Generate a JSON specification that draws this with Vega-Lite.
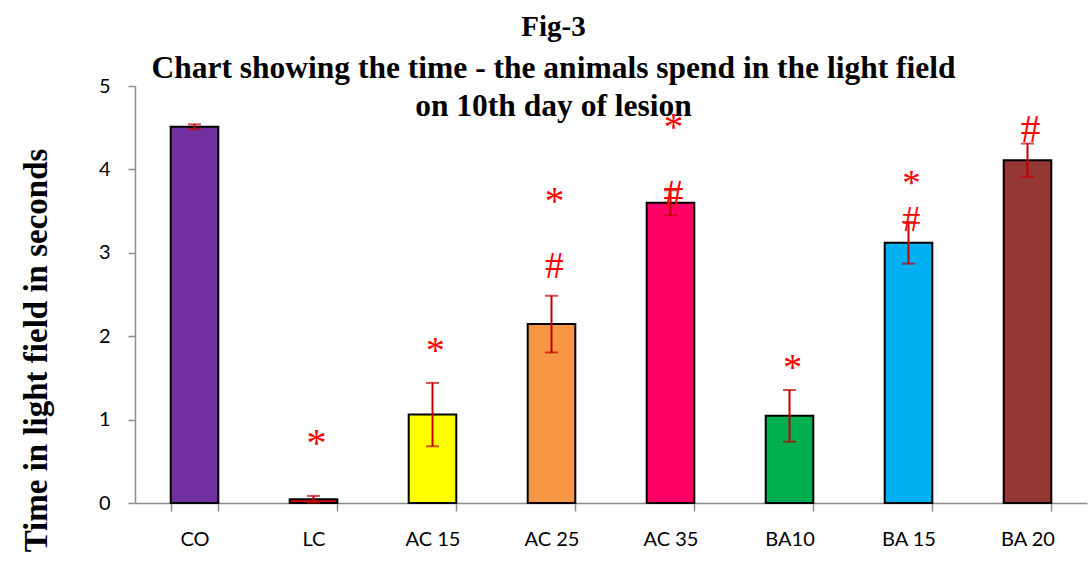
{
  "$schema": "https://vega.github.io/schema/vega-lite/v6.json",
  "width": 952,
  "height": 417,
  "autosize": {"type": "none"},
  "padding": {"left": 135, "top": 86, "right": 3, "bottom": 77},
  "background": "white",
  "title": {
    "text": "Fig-3",
    "subtitle": ["Chart showing the time - the animals spend in the light field", "on 10th day of lesion"],
    "anchor": "middle",
    "frame": "bounds",
    "font": "Liberation Serif",
    "fontSize": 29,
    "fontWeight": "bold",
    "color": "black",
    "subtitleFont": "Liberation Serif",
    "subtitleFontSize": 31.5,
    "subtitleFontWeight": "bold",
    "subtitleColor": "black",
    "subtitleLineHeight": 38,
    "subtitlePadding": 11,
    "offset": -46
  },
  "config": {"view": {"stroke": null}},
  "datasets": {
    "bars": [
      {"group": "CO", "mean": 4.51, "sem": 0.03},
      {"group": "LC", "mean": 0.045, "sem": 0.04},
      {"group": "AC 15", "mean": 1.06, "sem": 0.38},
      {"group": "AC 25", "mean": 2.145, "sem": 0.34},
      {"group": "AC 35", "mean": 3.6, "sem": 0.15},
      {"group": "BA10", "mean": 1.045, "sem": 0.31},
      {"group": "BA 15", "mean": 3.12, "sem": 0.25},
      {"group": "BA 20", "mean": 4.11, "sem": 0.2}
    ],
    "marks": [
      {"group": "LC", "symbol": "*", "pos": 0.71, "level": "6"},
      {"group": "AC 15", "symbol": "*", "pos": 1.815, "level": "3"},
      {"group": "AC 25", "symbol": "*", "pos": 3.61, "level": "5"},
      {"group": "AC 25", "symbol": "#", "pos": 2.83, "level": "3"},
      {"group": "AC 35", "symbol": "*", "pos": 4.5, "level": "5"},
      {"group": "AC 35", "symbol": "#", "pos": 3.69, "level": "6"},
      {"group": "BA10", "symbol": "*", "pos": 1.62, "level": "4"},
      {"group": "BA 15", "symbol": "*", "pos": 3.83, "level": "2"},
      {"group": "BA 15", "symbol": "#", "pos": 3.39, "level": "1"},
      {"group": "BA 20", "symbol": "#", "pos": 4.47, "level": "5"}
    ]
  },
  "encoding": {
    "x": {
      "field": "group",
      "type": "nominal",
      "sort": ["CO", "LC", "AC 15", "AC 25", "AC 35", "BA10", "BA 15", "BA 20"],
      "scale": {"paddingInner": 0.6, "paddingOuter": 0.3},
      "axis": {
        "title": null,
        "labelAngle": 0,
        "labelFont": "Lato",
        "labelFontSize": 20,
        "labelFontWeight": "normal",
        "labelColor": "black",
        "labelPadding": 18,
        "labelBaseline": "top",
        "domainColor": "#8c8c8c",
        "domainWidth": 1.5,
        "tickColor": "#8c8c8c",
        "tickWidth": 1.5,
        "tickSize": 8,
        "tickBand": "extent"
      }
    }
  },
  "layer": [
    {
      "data": {"name": "bars"},
      "mark": {"type": "bar", "stroke": "black", "strokeWidth": 2},
      "encoding": {
        "y": {
          "field": "mean",
          "type": "quantitative",
          "title": "Time in light field in seconds",
          "scale": {"domain": [0, 5], "nice": false},
          "axis": {
            "title": "Time in light field in seconds",
            "titleFont": "Liberation Serif",
            "titleFontSize": 33,
            "titleFontWeight": "bold",
            "titleColor": "black",
            "titleX": -99,
            "titleY": 264,
            "titleAngle": -90,
            "titleAlign": "center",
            "titleBaseline": "middle",
            "values": [0, 1, 2, 3, 4, 5],
            "format": "d",
            "grid": false,
            "labelFont": "Lato",
            "labelFontSize": 20,
            "labelFontWeight": "normal",
            "labelColor": "black",
            "labelPadding": 18,
            "domainColor": "#8c8c8c",
            "domainWidth": 1.5,
            "tickColor": "#8c8c8c",
            "tickWidth": 1.5,
            "tickSize": 7
          }
        },
        "color": {
          "field": "group",
          "type": "nominal",
          "scale": {
            "domain": ["CO", "LC", "AC 15", "AC 25", "AC 35", "BA10", "BA 15", "BA 20"],
            "range": ["#7030A0", "#E00000", "#FFFF00", "#F79646", "#FF0066", "#00B050", "#00B0F0", "#953735"]
          },
          "legend": null
        }
      }
    },
    {
      "data": {"name": "bars"},
      "mark": {
        "type": "errorbar",
        "ticks": {"size": 13, "thickness": 2, "color": "#C00000"},
        "rule": {"strokeWidth": 2, "color": "#C00000"}
      },
      "encoding": {
        "y": {"field": "mean", "type": "quantitative", "title": "Time in light field in seconds"},
        "yError": {"field": "sem"}
      }
    },
    {
      "data": {"name": "marks"},
      "mark": {"type": "text", "font": "Liberation Serif", "color": "#FF0000", "baseline": "middle", "align": "center", "dx": 3},
      "encoding": {
        "y": {"field": "pos", "type": "quantitative", "title": "Time in light field in seconds"},
        "text": {"field": "symbol"},
        "size": {
          "field": "level",
          "type": "ordinal",
          "scale": {"domain": ["1", "2", "3", "4", "5", "6"], "range": [36, 40, 46, 50, 66, 70]},
          "legend": null
        }
      }
    }
  ]
}
